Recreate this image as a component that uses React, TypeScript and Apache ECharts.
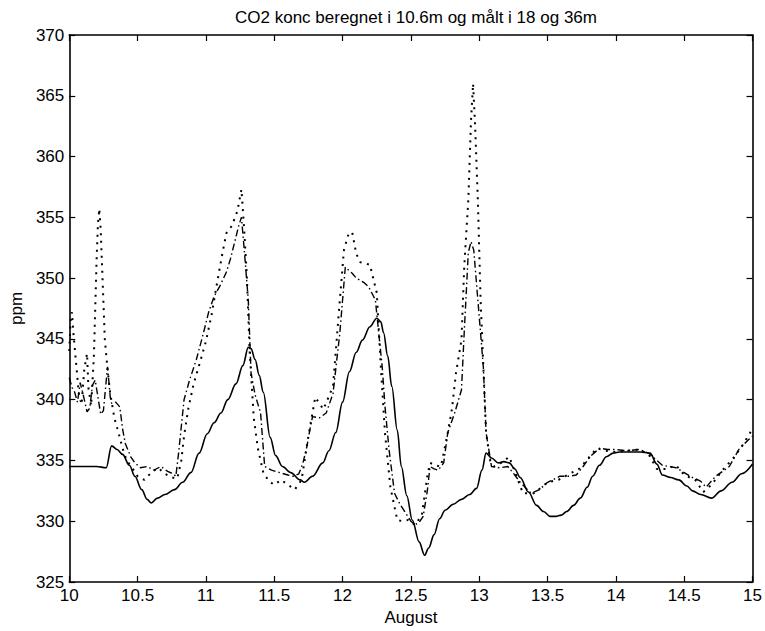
import React, { useEffect, useRef } from "react";
import * as echarts from "echarts";

const TITLE = "CO2 konc beregnet i 10.6m og målt i 18 og 36m";
const X_NAME = "August";
const Y_NAME = "ppm";

// Solid line: computed at 10.6 m
const solidX = [10.00,10.10,10.20,10.27,10.31,10.35,10.39,10.44,10.48,10.53,10.57,10.60,10.645,10.70,10.77,10.83,10.89,10.95,11.01,11.06,11.11,11.16,11.22,11.27,11.31,11.33,11.36,11.39,11.42,11.47,11.51,11.56,11.62,11.69,11.72,11.78,11.855,11.90,11.95,12.00,12.05,12.10,12.145,12.20,12.25,12.28,12.30,12.33,12.36,12.40,12.43,12.47,12.51,12.56,12.60,12.63,12.67,12.71,12.75,12.81,12.87,12.93,12.98,13.02,13.05,13.09,13.14,13.18,13.22,13.26,13.30,13.36,13.42,13.47,13.52,13.56,13.60,13.64,13.69,13.74,13.79,13.83,13.88,13.93,13.98,14.03,14.10,14.18,14.25,14.30,14.34,14.40,14.46,14.52,14.56,14.62,14.70,14.77,14.85,14.92,15.00];
const solidY = [334.5,334.5,334.5,334.4,336.2,335.9,335.5,334.6,333.7,332.6,331.8,331.5,331.9,332.2,332.6,333.2,334.0,335.6,337.2,338.1,338.9,340.0,341.3,342.8,344.3,344.2,343.3,342.0,340.6,336.9,335.4,334.5,334.0,333.4,333.2,333.7,334.8,335.8,337.3,339.8,342.3,343.9,344.9,346.0,346.7,346.4,345.5,343.6,341.1,337.5,334.5,332.1,330.1,328.3,327.2,327.8,328.9,330.2,330.9,331.4,331.8,332.2,332.7,334.2,335.6,335.2,334.8,334.9,334.8,334.3,333.6,332.4,331.3,330.8,330.4,330.4,330.5,330.8,331.3,331.9,332.8,333.7,334.6,335.3,335.6,335.7,335.7,335.7,335.6,334.7,333.8,333.6,333.4,332.9,332.5,332.2,331.9,332.5,333.2,333.9,334.7];

// Dash-dot line: measured at 18 m
const dashDotX = [10.00,10.02,10.04,10.06,10.08,10.10,10.13,10.15,10.17,10.19,10.21,10.23,10.25,10.27,10.28,10.30,10.31,10.34,10.37,10.39,10.41,10.45,10.48,10.52,10.57,10.62,10.67,10.72,10.76,10.78,10.80,10.82,10.84,10.88,10.93,10.98,11.02,11.06,11.10,11.15,11.18,11.22,11.24,11.26,11.28,11.31,11.33,11.36,11.40,11.43,11.48,11.54,11.60,11.64,11.68,11.71,11.74,11.76,11.78,11.83,11.88,11.93,11.98,12.02,12.05,12.07,12.10,12.13,12.16,12.19,12.24,12.26,12.29,12.31,12.34,12.38,12.42,12.46,12.50,12.53,12.56,12.59,12.62,12.64,12.67,12.70,12.74,12.77,12.82,12.87,12.89,12.92,12.94,12.96,12.99,13.03,13.05,13.09,13.15,13.21,13.26,13.30,13.38,13.44,13.50,13.59,13.66,13.71,13.76,13.81,13.88,13.94,14.00,14.08,14.17,14.24,14.29,14.34,14.44,14.50,14.56,14.62,14.66,14.73,14.78,14.83,14.90,14.97,15.00];
const dashDotY = [341.8,341.0,340.6,339.8,341.4,340.5,339.0,339.3,341.2,341.6,340.2,338.8,339.1,341.5,342.7,340.2,339.7,339.8,339.4,337.6,336.4,335.3,334.8,334.4,334.5,334.2,334.5,334.1,333.9,333.7,335.6,337.8,340.0,341.6,343.3,345.4,347.2,348.5,349.3,350.5,351.6,353.4,354.3,355.0,352.4,348.2,342.2,340.4,338.9,334.5,334.2,334.0,333.8,333.7,333.9,334.8,336.2,337.5,338.6,338.5,338.9,340.5,345.5,350.9,350.6,350.4,350.0,349.8,349.6,349.3,348.2,346.0,342.7,339.5,335.9,332.3,331.4,330.7,330.0,329.7,329.9,330.4,332.5,334.5,334.3,334.2,334.8,337.3,338.9,340.8,345.5,352.1,353.0,352.3,348.2,342.7,337.3,334.5,334.4,334.5,333.8,333.2,332.3,332.6,333.2,333.7,333.7,333.8,334.5,335.3,336.0,335.9,335.9,335.8,335.9,335.6,335.1,334.6,334.4,334.0,333.6,333.3,332.8,333.7,334.1,334.5,335.9,336.7,337.0];

// Dotted line: measured at 36 m
const dottedX = [10.00,10.01,10.02,10.03,10.05,10.07,10.09,10.11,10.13,10.14,10.16,10.18,10.19,10.20,10.21,10.22,10.23,10.24,10.25,10.26,10.28,10.30,10.33,10.36,10.39,10.42,10.46,10.50,10.55,10.60,10.65,10.70,10.75,10.79,10.82,10.84,10.87,10.91,10.96,11.00,11.04,11.08,11.12,11.15,11.19,11.23,11.26,11.28,11.30,11.32,11.35,11.38,11.42,11.46,11.50,11.55,11.60,11.65,11.70,11.75,11.80,11.86,11.93,11.98,12.01,12.04,12.07,12.10,12.13,12.17,12.20,12.25,12.28,12.31,12.35,12.40,12.44,12.48,12.53,12.58,12.62,12.64,12.68,12.72,12.77,12.80,12.83,12.87,12.89,12.92,12.94,12.955,12.97,12.99,13.01,13.04,13.05,13.08,13.11,13.16,13.22,13.27,13.32,13.40,13.50,13.58,13.66,13.73,13.80,13.86,13.92,14.00,14.08,14.17,14.24,14.30,14.37,14.44,14.50,14.58,14.64,14.70,14.78,14.86,14.93,15.00];
const dottedY = [344.0,346.5,347.2,345.5,343.0,340.5,339.6,342.5,343.8,341.0,339.5,343.5,347.5,351.5,354.5,355.7,354.0,351.0,348.0,345.0,342.5,340.5,338.5,337.3,336.0,335.0,334.4,333.7,333.4,334.0,334.4,333.9,333.6,333.5,335.0,337.0,339.2,341.3,343.2,344.8,346.9,349.5,352.0,353.7,354.3,355.5,357.3,354.0,350.0,344.0,338.5,336.0,334.0,333.3,333.0,333.4,333.0,332.6,333.4,337.0,340.2,339.2,341.1,348.2,352.3,353.5,353.8,352.0,351.3,351.2,351.1,348.8,342.7,337.3,332.8,330.1,330.0,330.1,329.7,330.5,333.7,334.8,334.6,334.5,337.3,339.2,342.2,344.9,350.9,356.4,363.0,366.0,362.5,356.4,348.2,340.0,337.3,335.0,334.5,334.8,335.3,333.8,332.3,332.3,333.2,333.4,333.9,334.3,335.2,336.0,335.8,335.7,335.8,335.9,335.5,334.3,334.3,334.6,333.8,333.4,332.4,333.0,334.2,335.2,336.3,337.6];

const X_MIN = 10, X_MAX = 15, X_STEP = 0.5;
const Y_MIN = 325, Y_MAX = 370, Y_STEP = 5;

const zip = (xs: number[], ys: number[]) => xs.map((x, i) => [x, ys[i]]);

const FONT = "Liberation Sans, Arial, sans-serif";

export default function App() {
  const ref = useRef<HTMLDivElement>(null);
  useEffect(() => {
    if (!ref.current) return;
    const chart = echarts.init(ref.current, null, { renderer: "svg" });
    const axisLine = { show: true, lineStyle: { color: "#000", width: 1.6 } };
    const tick = { show: true, inside: true, length: 6, lineStyle: { color: "#000", width: 1.2 } };
    const label = { color: "#000", fontSize: 17, fontFamily: FONT };
    chart.setOption({
      animation: false,
      backgroundColor: "#fff",
      title: {
        text: TITLE,
        left: 411,
        top: 4,
        textAlign: "center",
        textStyle: { color: "#000", fontSize: 17, fontWeight: "normal", fontFamily: FONT },
      },
      grid: { left: 64, right: 11, top: 35, bottom: 49, containLabel: false },
      xAxis: [
        {
          type: "value", min: X_MIN, max: X_MAX, interval: X_STEP, position: "bottom",
          axisLine, axisTick: tick, splitLine: { show: false },
          axisLabel: { ...label, margin: 5, formatter: (v: number) => String(v) },
          name: X_NAME, nameLocation: "middle", nameGap: 27,
          nameTextStyle: { color: "#000", fontSize: 17, fontFamily: FONT },
        },
        {
          type: "value", min: X_MIN, max: X_MAX, interval: X_STEP, position: "top",
          axisLine, axisTick: tick, splitLine: { show: false }, axisLabel: { show: false },
        },
      ],
      yAxis: [
        {
          type: "value", min: Y_MIN, max: Y_MAX, interval: Y_STEP, position: "left",
          axisLine, axisTick: tick, splitLine: { show: false },
          axisLabel: { ...label, margin: 5 },
          name: Y_NAME, nameLocation: "middle", nameGap: 40, nameRotate: 90,
          nameTextStyle: { color: "#000", fontSize: 17, fontFamily: FONT },
        },
        {
          type: "value", min: Y_MIN, max: Y_MAX, interval: Y_STEP, position: "right",
          axisLine, axisTick: tick, splitLine: { show: false }, axisLabel: { show: false },
        },
      ],
      series: [
        {
          name: "10.6m", type: "line", showSymbol: false, symbol: "none",
          smooth: 0.35, smoothMonotone: "x",
          data: zip(solidX, solidY), lineStyle: { color: "#000", width: 1.6 },
        },
        {
          name: "18m", type: "line", showSymbol: false, symbol: "none",
          data: zip(dashDotX, dashDotY), lineStyle: { color: "#000", width: 1.4, type: [7, 3, 1.5, 3] },
        },
        {
          name: "36m", type: "line", showSymbol: false, symbol: "none",
          data: zip(dottedX, dottedY), lineStyle: { color: "#000", width: 2, type: [2, 5.5] },
        },
      ],
    });
    return () => chart.dispose();
  }, []);
  return (
    <div
      ref={ref}
      style={{ position: "fixed", left: 0, top: 0, width: 765, height: 631, background: "#fff" }}
    />
  );
}
